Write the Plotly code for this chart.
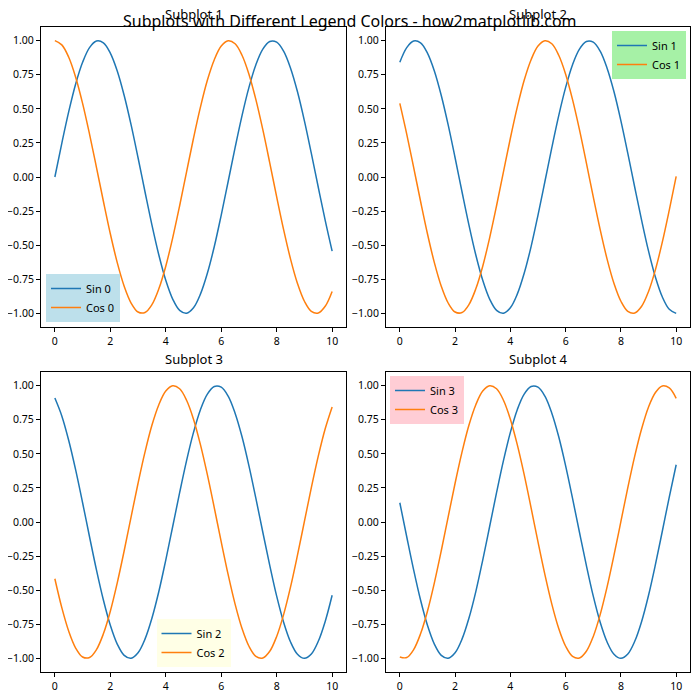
import plotly.graph_objs as go

# x positions (step 0.25) and values
x_vals = [0.0, 0.25, 0.5, 0.75, 1.0, 1.25, 1.5, 1.75, 2.0, 2.25, 2.5, 2.75, 3.0, 3.25,
          3.5, 3.75, 4.0, 4.25, 4.5, 4.75, 5.0, 5.25, 5.5, 5.75, 6.0, 6.25, 6.5, 6.75,
          7.0, 7.25, 7.5, 7.75, 8.0, 8.25, 8.5, 8.75, 9.0, 9.25, 9.5, 9.75, 10.0]

sin_0 = [0.000, 0.247, 0.479, 0.682, 0.841, 0.949, 0.997, 0.984, 0.909, 0.778, 0.598,
         0.382, 0.141, -0.108, -0.351, -0.572, -0.757, -0.895, -0.978, -0.999, -0.959,
         -0.859, -0.706, -0.510, -0.279, -0.033, 0.215, 0.450, 0.657, 0.824, 0.938,
         0.994, 0.989, 0.923, 0.798, 0.625, 0.412, 0.173, -0.075, -0.318, -0.544]
cos_0 = [1.000, 0.969, 0.878, 0.732, 0.540, 0.315, 0.071, -0.178, -0.416, -0.628, -0.801,
         -0.924, -0.990, -0.994, -0.936, -0.820, -0.654, -0.446, -0.211, 0.038, 0.284,
         0.512, 0.709, 0.860, 0.960, 0.999, 0.977, 0.893, 0.754, 0.567, 0.347,
         0.104, -0.146, -0.386, -0.602, -0.781, -0.911, -0.985, -0.997, -0.948, -0.839]

sin_1 = [0.841, 0.949, 0.997, 0.984, 0.909, 0.778, 0.598, 0.382, 0.141, -0.108, -0.351,
         -0.572, -0.757, -0.895, -0.978, -0.999, -0.959, -0.859, -0.706, -0.510, -0.279,
         -0.033, 0.215, 0.450, 0.657, 0.824, 0.938, 0.994, 0.989, 0.923, 0.798,
         0.625, 0.412, 0.173, -0.075, -0.318, -0.544, -0.735, -0.880, -0.970, -1.000]
cos_1 = [0.540, 0.315, 0.071, -0.178, -0.416, -0.628, -0.801, -0.924, -0.990, -0.994, -0.936,
         -0.820, -0.654, -0.446, -0.211, 0.038, 0.284, 0.512, 0.709, 0.860, 0.960,
         0.999, 0.977, 0.893, 0.754, 0.567, 0.347, 0.104, -0.146, -0.386, -0.602,
         -0.781, -0.911, -0.985, -0.997, -0.948, -0.839, -0.679, -0.476, -0.243, 0.004]

sin_2 = [0.909, 0.778, 0.598, 0.382, 0.141, -0.108, -0.351, -0.572, -0.757, -0.895, -0.978,
         -0.999, -0.959, -0.859, -0.706, -0.510, -0.279, -0.033, 0.215, 0.450, 0.657,
         0.824, 0.938, 0.994, 0.989, 0.923, 0.798, 0.625, 0.412, 0.173, -0.075,
         -0.318, -0.544, -0.735, -0.880, -0.970, -1.000, -0.968, -0.875, -0.729, -0.537]
cos_2 = [-0.416, -0.628, -0.801, -0.924, -0.990, -0.994, -0.936, -0.820, -0.654, -0.446, -0.211,
         0.038, 0.284, 0.512, 0.709, 0.860, 0.960, 0.999, 0.977, 0.893, 0.754,
         0.567, 0.347, 0.104, -0.146, -0.386, -0.602, -0.781, -0.911, -0.985, -0.997,
         -0.948, -0.839, -0.679, -0.476, -0.243, 0.004, 0.252, 0.483, 0.684, 0.844]

sin_3 = [0.141, -0.108, -0.351, -0.572, -0.757, -0.895, -0.978, -0.999, -0.959, -0.859, -0.706,
         -0.510, -0.279, -0.033, 0.215, 0.450, 0.657, 0.824, 0.938, 0.994, 0.989,
         0.923, 0.798, 0.625, 0.412, 0.173, -0.075, -0.318, -0.544, -0.735, -0.880,
         -0.970, -1.000, -0.968, -0.875, -0.729, -0.537, -0.311, -0.066, 0.183, 0.420]
cos_3 = [-0.990, -0.994, -0.936, -0.820, -0.654, -0.446, -0.211, 0.038, 0.284, 0.512, 0.709,
         0.860, 0.960, 0.999, 0.977, 0.893, 0.754, 0.567, 0.347, 0.104, -0.146,
         -0.386, -0.602, -0.781, -0.911, -0.985, -0.997, -0.948, -0.839, -0.679, -0.476,
         -0.243, 0.004, 0.252, 0.483, 0.684, 0.844, 0.950, 0.998, 0.983, 0.907]

sin_series = [sin_0, sin_1, sin_2, sin_3]
cos_series = [cos_0, cos_1, cos_2, cos_3]
subplot_titles = ["Subplot 1", "Subplot 2", "Subplot 3", "Subplot 4"]
legend_colors = ["rgba(173,216,230,0.8)", "rgba(144,238,144,0.8)",
                 "rgba(255,255,224,0.8)", "rgba(255,192,203,0.8)"]
x_ticks = [0, 2, 4, 6, 8, 10]
y_ticks = [-1, -0.75, -0.5, -0.25, 0, 0.25, 0.5, 0.75, 1]

FONT = "Noto Sans"
# the page body adds 8px round the figure, so the figure is 692px and shifted
OFF = 8.0
S = 692.0


def px(v):
    return (v - OFF) / S


def py(v):
    return 1 - (v - OFF) / S


# axes boxes in window pixels: (left, right, top, bottom)
boxes = [(41, 346, 27, 327), (386, 690, 27, 327),
         (41, 346, 372, 672), (386, 690, 372, 672)]

# legend placement: x, y, xanchor, yanchor (window pixels)
legend_pos = [(46, 322, "left", "bottom"), (686, 31, "right", "top"),
              (193.5, 667, "center", "bottom"), (390, 376, "left", "top")]

data = []
layout = dict(
    width=692, height=692,
    margin=dict(l=0, r=0, t=0, b=0),
    paper_bgcolor="white", plot_bgcolor="white",
    font=dict(family=FONT, size=11, color="black"),
    annotations=[],
)

for i in range(4):
    sfx = "" if i == 0 else str(i + 1)
    leg = "legend" if i == 0 else "legend" + str(i + 1)
    data.append(go.Scatter(
        x=x_vals, y=sin_series[i], mode="lines", name="Sin %d" % i,
        line=dict(color="#1f77b4", width=1.5, shape="spline"),
        xaxis="x" + sfx, yaxis="y" + sfx, legend=leg))
    data.append(go.Scatter(
        x=x_vals, y=cos_series[i], mode="lines", name="Cos %d" % i,
        line=dict(color="#ff7f0e", width=1.5, shape="spline"),
        xaxis="x" + sfx, yaxis="y" + sfx, legend=leg))

    l, r, t, b = boxes[i]
    layout["xaxis" + sfx] = dict(
        domain=[px(l), px(r)], range=[-0.5, 10.5], anchor="y" + sfx, automargin=False,
        tickvals=x_ticks, ticks="outside", ticklen=4, tickcolor="black",
        showline=True, mirror=True, linecolor="black", linewidth=1,
        showgrid=False, zeroline=False, tickfont=dict(size=10.5))
    layout["yaxis" + sfx] = dict(
        domain=[py(b), py(t)], range=[-1.1, 1.1], anchor="x" + sfx, automargin=False,
        tickvals=y_ticks, tickformat=".2f",
        ticks="outside", ticklen=4, tickcolor="black",
        showline=True, mirror=True, linecolor="black", linewidth=1,
        showgrid=False, zeroline=False, tickfont=dict(size=10.5))

    lx, ly, xa, ya = legend_pos[i]
    layout[leg] = dict(
        x=px(lx), y=py(ly), xanchor=xa, yanchor=ya,
        bgcolor=legend_colors[i], borderwidth=0,
        font=dict(family=FONT, size=11), itemwidth=30, tracegroupgap=0)

    layout["annotations"].append(dict(
        text=subplot_titles[i], x=px((l + r) / 2), y=py(t - 2),
        xref="paper", yref="paper", xanchor="center", yanchor="bottom",
        showarrow=False, font=dict(family=FONT, size=13)))

layout["annotations"].append(dict(
    text="Subplots with Different Legend Colors - how2matplotlib.com",
    x=px(350), y=py(21), xref="paper", yref="paper", xanchor="center", yanchor="middle",
    showarrow=False, font=dict(family=FONT, size=16)))

fig = go.Figure(data=data, layout=layout)
fig.write_html("out.html")
